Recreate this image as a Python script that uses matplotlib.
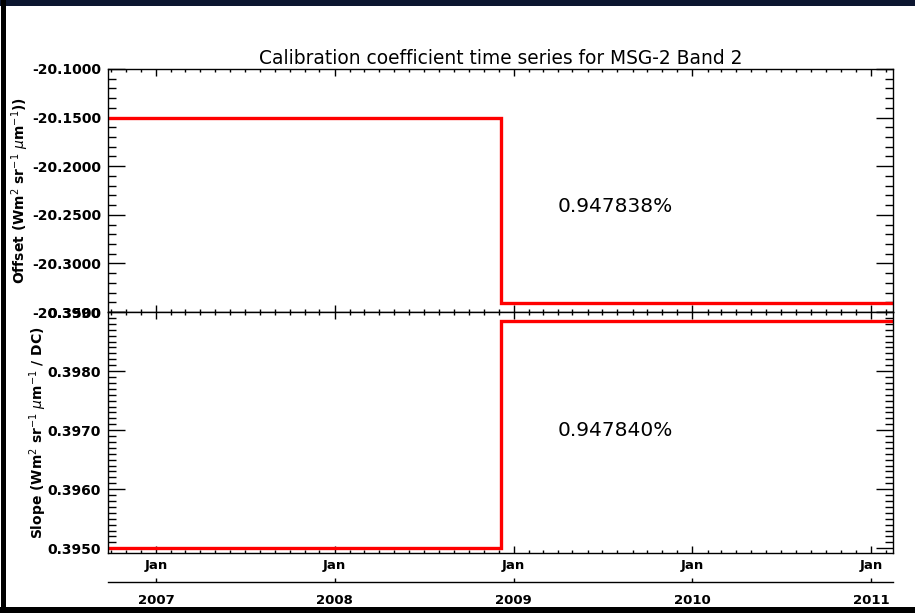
import matplotlib
matplotlib.use("Agg")
import matplotlib.pyplot as plt
import matplotlib.dates as mdates
import matplotlib.ticker as mticker
from matplotlib.patches import Rectangle
from matplotlib.transforms import blended_transform_factory
from datetime import datetime

# ---- data ----
step_dates = [datetime(2006, 9, 25), datetime(2008, 12, 7), datetime(2011, 2, 15)]
offset_vals = [-20.1500, -20.3410, -20.3410]
slope_vals = [0.39500, 0.39885, 0.39885]
offset_change = "0.947838%"
slope_change = "0.947840%"
years = [2007, 2008, 2009, 2010, 2011]
title = "Calibration coefficient time series for MSG-2 Band 2"
offset_label = r"Offset (Wm$^{2}$ sr$^{-1}$ $\mu$m$^{-1}$))"
slope_label = r"Slope (Wm$^{2}$ sr$^{-1}$ $\mu$m$^{-1}$ / DC)"

W, H = 915, 613
fig = plt.figure(figsize=(W / 100, H / 100), dpi=100)
fig.patch.set_facecolor("white")

def fx(px):
    return px / W

def fy(py):
    return 1 - py / H

left, right = 108, 893
ax1 = fig.add_axes([fx(left), fy(312), fx(right - left), (312 - 69) / H])
ax2 = fig.add_axes([fx(left), fy(553), fx(right - left), (553 - 312) / H])

xmin, xmax = datetime(2006, 9, 25), datetime(2011, 2, 15)
red = "#ff0000"

ax1.plot(step_dates, offset_vals, drawstyle="steps-post", color=red, lw=2.4, solid_joinstyle="miter")
ax2.plot(step_dates, slope_vals, drawstyle="steps-post", color=red, lw=2.4, solid_joinstyle="miter")

ax1.set_ylim(-20.35, -20.10)
ax1.yaxis.set_major_locator(mticker.MultipleLocator(0.05))
ax1.yaxis.set_minor_locator(mticker.MultipleLocator(0.01))
ax1.yaxis.set_major_formatter(mticker.FormatStrFormatter("%.4f"))

ax2.set_ylim(0.39492, 0.3990)
ax2.yaxis.set_major_locator(mticker.MultipleLocator(0.001))
ax2.yaxis.set_minor_locator(mticker.MultipleLocator(0.0001))
ax2.yaxis.set_major_formatter(mticker.FormatStrFormatter("%.4f"))

for ax in (ax1, ax2):
    ax.set_xlim(xmin, xmax)
    ax.xaxis.set_major_locator(mdates.YearLocator())
    ax.xaxis.set_minor_locator(mdates.MonthLocator())
    ax.xaxis.set_major_formatter(mticker.NullFormatter())
    ax.tick_params(axis="y", which="major", direction="in", length=12, width=1.0,
                   left=True, right=True, labelsize=10, pad=5, colors="black")
    ax.tick_params(axis="y", which="minor", direction="in", length=6, width=1.0,
                   left=True, right=True)
    ax.tick_params(axis="x", which="major", direction="in", length=5, width=1.0,
                   top=True, bottom=True)
    ax.tick_params(axis="x", which="minor", direction="in", length=2.5, width=1.0,
                   top=True, bottom=True)
    for s in ax.spines.values():
        s.set_linewidth(1.0)
        s.set_color("black")
    for lab in ax.get_yticklabels():
        lab.set_fontweight("bold")

ax1.text(0.646, 0.435, offset_change, transform=ax1.transAxes, fontsize=14.5,
         ha="center", va="center")
ax2.text(0.646, 0.51, slope_change, transform=ax2.transAxes, fontsize=14.5,
         ha="center", va="center")

fig.text(fx(20), (fy(69) + fy(312)) / 2, offset_label, rotation=90, fontsize=10,
         ha="center", va="center", fontweight="bold")
fig.text(fx(38), (fy(312) + fy(553)) / 2, slope_label, rotation=90, fontsize=10,
         ha="center", va="center", fontweight="bold")
fig.text(fx(500.5), fy(58), title, fontsize=13.4, ha="center", va="center")

# secondary date axis (Jan / year)
ax3 = fig.add_axes([fx(left), fy(582), fx(right - left), 0.0001])
ax3.set_xlim(xmin, xmax)
ax3.set_ylim(0, 1)
for k in ("top", "left", "right"):
    ax3.spines[k].set_visible(False)
ax3.spines["bottom"].set_linewidth(1.0)
ax3.set_yticks([])
ax3.set_xticks([datetime(y, 1, 1) for y in years])
ax3.set_xticklabels([str(y) for y in years], fontsize=9.5, fontweight="bold")
ax3.tick_params(axis="x", direction="in", length=3, width=1.0, pad=9)
tr = blended_transform_factory(ax3.transData, fig.transFigure)
for y in years:
    ax3.text(mdates.date2num(datetime(y, 1, 1)), fy(566), "Jan", transform=tr,
             fontsize=9.5, ha="center", va="center", fontweight="bold")

# frame decorations
fig.patches.append(Rectangle((0, fy(6)), 1, fy(0) - fy(6), transform=fig.transFigure,
                             facecolor="#0c1630", edgecolor="none", zorder=10))
fig.patches.append(Rectangle((fx(1), 0), fx(6) - fx(1), 1, transform=fig.transFigure,
                             facecolor="black", edgecolor="none", zorder=10))
fig.patches.append(Rectangle((0, 0), 1, 6 / H, transform=fig.transFigure,
                             facecolor="black", edgecolor="none", zorder=10))

fig.savefig("out.png", dpi=100)
